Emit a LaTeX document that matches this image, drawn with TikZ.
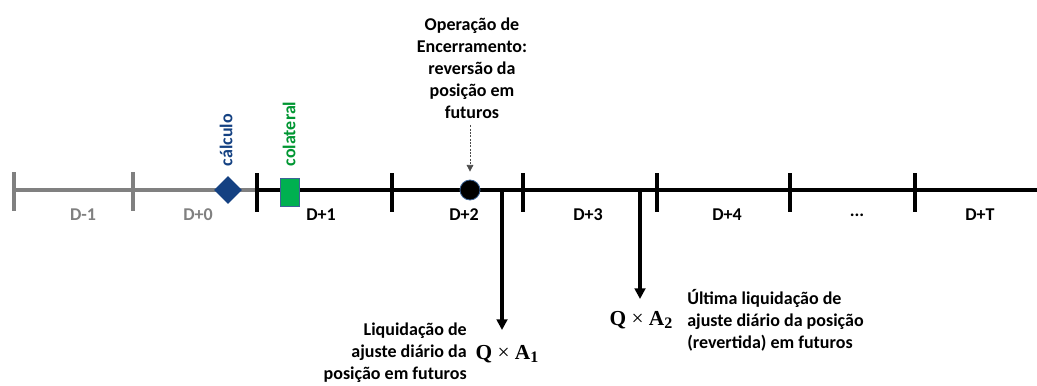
\documentclass[tikz,border=0pt]{standalone}
\usepackage[no-math]{fontspec}
\setmainfont{Carlito}
\newfontfamily\qafont{Liberation Serif}
\usetikzlibrary{shapes.geometric,arrows.meta}

\definecolor{calcblue}{RGB}{20,65,130}
\definecolor{colgreen}{RGB}{0,176,80}
\definecolor{coltext}{RGB}{0,150,50}
\definecolor{pastgray}{RGB}{128,128,128}
\definecolor{rimblue}{RGB}{60,100,150}

\newcommand{\qaidx}[1]{{\qafont\textbf{Q}\kern0.25em×\kern0.25em\textbf{A}\raisebox{-0.35ex}{\fontsize{12}{12}\selectfont\bfseries #1}}}

\tikzset{
  txt/.style={font=\bfseries\fontsize{13.5}{16.5}\selectfont, inner sep=0pt},
  daylbl/.style={txt},
  tickmark/.style={line width=2.4pt},
  settle/.style={line width=2.4pt, -{Triangle[length=8pt,width=8pt]}},
  hint/.style={line width=0.6pt, gray!60!black, dash pattern=on 1.5pt off 1pt,
    -{Triangle[length=5pt,width=5pt]}},
  qa/.style={font=\fontsize{16}{18}\selectfont, inner sep=0pt}
}

\begin{document}
\begin{tikzpicture}[x=0.75pt,y=-0.75pt]
  \useasboundingbox (0,0) rectangle (1037,385);

  % Drawing past days (grey)
  \draw [tickmark, pastgray] (14,190) -- (257,190);%
  \draw [tickmark, pastgray] (14,172) -- (14,211);%
  \draw [tickmark, pastgray] (133,172) -- (133,211);%

  % Drawing timeline from D+1 on
  \draw [tickmark] (257,190) -- (1037,190);%
  \foreach \x in {257,392,523,657,790,915}
    \draw [tickmark] (\x,173) -- (\x,212);%

  % Day labels
  \node [daylbl, pastgray] (dm1) at (83,215) {D-1};%
  \node [daylbl, pastgray] (d0) at (198,215) {D+0};%
  \node [daylbl] (d1) at (321,215) {D+1};%
  \node [daylbl] (d2) at (464,215) {D+2};%
  \node [daylbl] (d3) at (588,215) {D+3};%
  \node [daylbl] (d4) at (727,215) {D+4};%
  \node [daylbl] (dd) at (857,215) {...};%
  \node [daylbl] (dt) at (980,215) {D+T};%

  % Marking calculation by diamond
  \node [diamond, fill=calcblue, minimum width=21pt, minimum height=21pt,
    inner sep=0pt] (calc) at (228,190) {};%
  \node [txt, calcblue, rotate=90] (calctxt) at (226,140) {cálculo};%

  % Marking collateral by rectangle
  \node [rectangle, fill=colgreen, draw=rimblue, line width=0.4pt,
    minimum width=14pt, minimum height=21pt, inner sep=0pt] (colat) at (290,192) {};%
  \node [txt, coltext, rotate=90] (colattxt) at (289,134) {colateral};%

  % Marking closing operation by circle
  \node [circle, fill=black, draw=rimblue, line width=0.6pt,
    minimum size=15pt, inner sep=0pt] (encpt) at (470,190) {};%
  \node [txt, align=center] (enctxt) at (472,68)
    {Operação de\\Encerramento:\\reversão da\\posição em\\futuros};%
  \draw [hint, shorten <=5pt, shorten >=6pt] (enctxt.south -| encpt) -- (encpt.north);%

  % Drawing settlement D+2
  \coordinate (s1) at (502,190);%
  \coordinate (e1) at (502,330);%
  \draw [settle] (s1) -- (e1);%
  \node [qa] (qa1) at (507,354) {\qaidx{1}};%
  \node [txt, align=right, anchor=east] (liq1) at (467,353)
    {Liquidação de\\ajuste diário da\\posição em futuros};%

  % Drawing settlement D+3
  \coordinate (s2) at (640,190);%
  \coordinate (e2) at (640,299);%
  \draw [settle] (s2) -- (e2);%
  \node [qa] (qa2) at (641,320) {\qaidx{2}};%
  \node [txt, align=left, anchor=west] (liq2) at (687,320)
    {Última liquidação de\\ajuste diário da posição\\(revertida) em futuros};%
\end{tikzpicture}
\end{document}
